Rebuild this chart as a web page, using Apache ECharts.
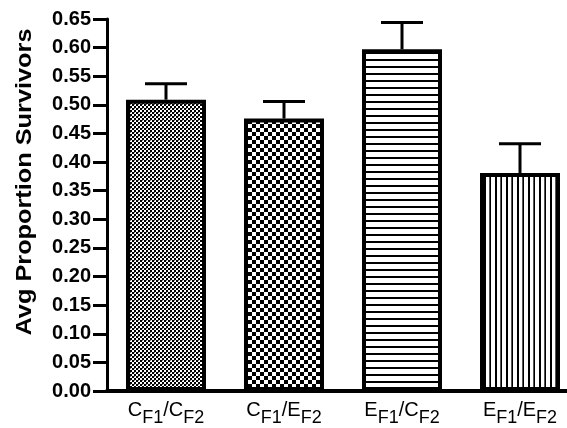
<!DOCTYPE html>
<html><head><meta charset="utf-8">
<script src="https://cdn.jsdelivr.net/npm/echarts@6/dist/echarts.min.js"></script>
<style>html,body{margin:0;padding:0;background:#fff}#c{width:567px;height:428px}</style>
</head><body><div id="c"></div>
<script>
const categories = ['CF1/CF2', 'CF1/EF2', 'EF1/CF2', 'EF1/EF2'];
const labelParts = [['C','F1','/C','F2'], ['C','F1','/E','F2'], ['E','F1','/C','F2'], ['E','F1','/E','F2']];
const means = [0.509, 0.476, 0.597, 0.381];
const upper = [0.537, 0.506, 0.644, 0.432];
const yTicks = {min: 0, max: 0.65, interval: 0.05};
const yTitle = 'Avg Proportion Survivors';

function pat(w, h, draw) {
  const c = document.createElement('canvas');
  c.width = w; c.height = h;
  const g = c.getContext('2d');
  g.fillStyle = '#fff'; g.fillRect(0, 0, w, h);
  g.fillStyle = '#000';
  draw(g);
  return {image: c, repeat: 'repeat'};
}
const patterns = [
  pat(4, 4, g => { g.fillRect(0,0,2,2); g.fillRect(2,2,2,2); g.fillStyle='#777'; g.fillRect(2,0,1,1); }),
  pat(8, 8, g => { g.fillRect(0,0,4,4); g.fillRect(4,4,4,4); }),
  pat(1, 7, g => { g.fillRect(0,3,1,2); }),
  pat(11, 1, g => { g.fillRect(0,0,2,1); g.fillRect(6,0,1,1); g.fillStyle='#555'; g.fillRect(5,0,1,1); })
];

const chart = echarts.init(document.getElementById('c'));
chart.setOption({
  backgroundColor: '#fff',
  animation: false,
  grid: {left: 107, top: 19, height: 372, width: 472, containLabel: false, outerBoundsMode: 'none'},
  xAxis: {
    type: 'category', data: categories,
    axisLine: {lineStyle: {color: '#000', width: 4}},
    axisTick: {show: false},
    axisLabel: {
      margin: 9, interval: 0,
      formatter: (v, i) => { const p = labelParts[i]; return '{m|' + p[0] + '}{s|' + p[1] + '}{m|' + p[2] + '}{s|' + p[3] + '}'; },
      rich: {
        m: {fontSize: 20, fontFamily: 'Liberation Sans, Arial', color: '#000', verticalAlign: 'top', lineHeight: 20},
        s: {fontSize: 18, fontFamily: 'Liberation Sans, Arial', color: '#000', verticalAlign: 'top', lineHeight: 20, padding: [9, 0, 0, 0]}
      }
    }
  },
  yAxis: {
    type: 'value', min: yTicks.min, max: yTicks.max, interval: yTicks.interval,
    axisLine: {show: true, lineStyle: {color: '#000', width: 3}},
    axisTick: {show: true, length: 14, lineStyle: {color: '#000', width: 3}},
    splitLine: {show: false},
    axisLabel: {margin: 16, fontSize: 20, fontWeight: 'bold', color: '#000', fontFamily: 'Liberation Sans, Arial',
      formatter: v => v.toFixed(2)}
  },
  graphic: [{
    type: 'text', x: 25, y: 182, rotation: Math.PI / 2, scaleX: 1.15,
    style: {text: yTitle, font: 'bold 22px "Liberation Sans", Arial', fill: '#000', align: 'center', verticalAlign: 'middle'}
  }],
  series: [{
    type: 'bar', barWidth: 80,
    data: means.map((v, i) => ({value: v, itemStyle: {color: patterns[i]}})),
    itemStyle: {borderColor: '#000', borderWidth: 4},
    z: 3
  }, {
    type: 'custom',
    data: means.map((v, i) => [i, v, upper[i]]),
    renderItem: (params, api) => {
      const lo = api.coord([api.value(0), api.value(1)]);
      const hi = api.coord([api.value(0), api.value(2)]);
      const st = {stroke: '#000', lineWidth: 3};
      return {type: 'group', children: [
        {type: 'line', shape: {x1: lo[0], y1: lo[1], x2: hi[0], y2: hi[1]}, style: st},
        {type: 'line', shape: {x1: hi[0] - 21, y1: hi[1], x2: hi[0] + 21, y2: hi[1]}, style: st}
      ]};
    },
    z: 2
  }]
});
</script></body></html>
